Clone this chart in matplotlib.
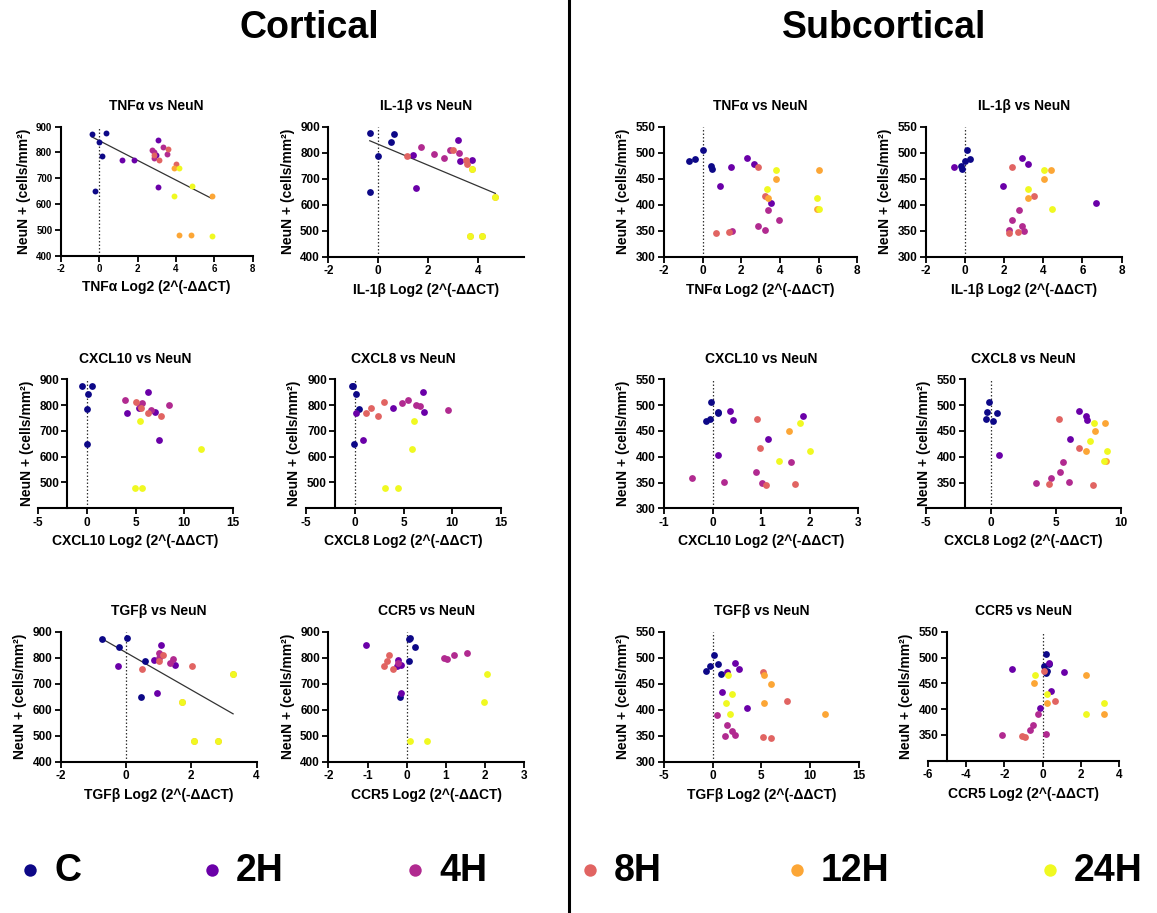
import numpy as np
import matplotlib
matplotlib.use('Agg')
import matplotlib.pyplot as plt

plt.rcParams['font.family'] = ['Liberation Sans', 'DejaVu Sans']
plt.rcParams['font.weight'] = 'bold'
plt.rcParams['axes.labelweight'] = 'bold'
plt.rcParams['axes.titleweight'] = 'bold'
plt.rcParams['axes.unicode_minus'] = False

GROUPS = ['C', '2H', '4H', '8H', '12H', '24H']
COLORS = plt.cm.plasma(np.linspace(0, 1, 6))

# NeuN+ counts per group (same animals in every panel of a region)
CORT_Y = {
    'C':   [875, 873, 842, 786, 649],
    '2H':  [850, 790, 772, 769, 666],
    '4H':  [820, 810, 800, 795, 780],
    '8H':  [812, 789, 770, 756],
    '12H': [738, 630, 479, 479],
    '24H': [738, 671, 630, 478, 478],
}
SUB_Y = {
    'C':   [506, 487, 484, 474, 469],
    '2H':  [489, 478, 472, 435, 403],
    '4H':  [390, 370, 359, 351, 349],
    '8H':  [473, 416, 347, 345],
    '12H': [466, 450, 412, 391],
    '24H': [466, 430, 412, 391],
}

N = None
# Log2 fold change, same order as the y lists (None = not shown)
# 12H points hidden under the 24H points where they coincide
CORT_TNFA = {
    'C':   [0.37, -0.38, 0.02, 0.14, -0.23],
    '2H':  [3.08, 2.95, 1.84, 1.18, 3.08],
    '4H':  [3.34, 2.73, 2.87, 3.53, 2.88],
    '8H':  [3.57, 2.85, 3.10, 4.02],
    '12H': [3.90, 5.86, 4.17, 4.80],
    '24H': [4.17, 4.82, 3.90, 5.86, N],
}
CORT_IL1B = {
    'C':   [-0.34, 0.65, 0.52, 0.00, -0.33],
    '2H':  [3.18, 1.40, 3.76, 3.29, 1.50],
    '4H':  [1.70, 2.86, 3.25, 2.23, 2.65],
    '8H':  [3.00, 1.17, 3.52, 3.55],
    '12H': [3.74, 4.69, 3.67, 4.14],
    '24H': [3.74, N, 4.69, 3.67, 4.14],
}
CORT_CXCL10 = {
    'C':   [-0.55, 0.48, 0.07, -0.03, -0.03],
    '2H':  [6.24, 5.38, 7.03, 4.14, 7.41],
    '4H':  [3.97, 5.69, 8.48, 5.50, 6.62],
    '8H':  [5.10, 5.59, 6.24, 7.62],
    '12H': [N, N, N, N],
    '24H': [5.48, N, 11.76, 4.93, 5.69],
}
CORT_CXCL8 = {
    'C':   [-0.20, -0.25, 0.14, 0.41, -0.10],
    '2H':  [6.97, 3.91, 7.14, 0.17, 0.85],
    '4H':  [5.44, 4.80, 6.26, 6.73, 9.59],
    '8H':  [2.96, 1.70, 1.19, 2.38],
    '12H': [N, N, N, N],
    '24H': [6.09, N, 5.85, 3.13, 4.46],
}
CORT_TGFB = {
    'C':   [0.04, -0.74, -0.22, 0.57, 0.46],
    '2H':  [1.07, 0.86, 1.49, -0.23, 0.94],
    '4H':  [1.00, 1.08, 1.02, 1.43, 1.36],
    '8H':  [1.13, 1.00, 2.03, 0.49],
    '12H': [3.28, 1.71, 2.08, 2.82],
    '24H': [3.28, N, 1.71, 2.08, 2.82],
}
CORT_CCR5 = {
    'C':   [0.09, 0.07, 0.21, 0.07, -0.17],
    '2H':  [-1.05, -0.21, -0.14, -0.24, -0.14],
    '4H':  [1.55, 1.21, 0.94, 1.02, -0.22],
    '8H':  [-0.44, -0.49, -0.58, -0.34],
    '12H': [N, N, N, N],
    '24H': [2.05, N, 1.97, 0.09, 0.51],
}

SUB_TNFA = {
    'C':   [0.02, -0.41, -0.69, 0.45, 0.50],
    '2H':  [2.29, 2.66, 1.47, 0.90, 3.53],
    '4H':  [3.36, 3.97, 2.86, 3.22, 1.52],
    '8H':  [2.84, 3.24, 1.36, 0.67],
    '12H': [6.03, 3.79, 3.36, 5.91],
    '24H': [3.79, 3.33, 5.91, 6.03],
}
SUB_IL1B = {
    'C':   [0.09, 0.27, 0.00, -0.19, -0.17],
    '2H':  [2.92, 3.20, -0.56, 1.95, 6.72],
    '4H':  [2.74, 2.41, 2.89, 2.22, 2.99],
    '8H':  [2.41, 3.52, 2.72, 2.24],
    '12H': [4.41, 4.05, 3.20, N],
    '24H': [4.02, 3.20, N, 4.43],
}
SUB_CXCL10 = {
    'C':   [-0.04, 0.12, 0.12, -0.06, -0.13],
    '2H':  [0.36, 1.87, 0.43, 1.15, 0.12],
    '4H':  [1.61, 0.89, -0.43, 0.23, 1.02],
    '8H':  [0.92, 0.97, 1.70, 1.10],
    '12H': [N, 1.57, N, N],
    '24H': [1.79, N, 2.00, 1.37],
}
SUB_CXCL8 = {
    'C':   [-0.15, -0.31, 0.46, -0.41, 0.13],
    '2H':  [6.79, 7.28, 7.38, 6.08, 0.62],
    '4H':  [5.56, 5.28, 4.64, 5.97, 3.44],
    '8H':  [5.23, 6.74, 4.44, 7.85],
    '12H': [8.74, 8.00, 7.28, 8.82],
    '24H': [7.95, 7.59, 8.90, 8.72],
}
SUB_TGFB = {
    'C':   [0.14, 0.55, -0.24, -0.65, 0.82],
    '2H':  [2.29, 2.67, 1.44, 0.92, 3.53],
    '4H':  [0.45, 1.47, 1.99, 2.33, 1.23],
    '8H':  [5.14, 7.60, 5.14, 5.99],
    '12H': [5.24, 5.99, 5.27, 11.54],
    '24H': [1.54, 1.99, 1.34, 1.78],
}
SUB_CCR5 = {
    'C':   [0.16, 0.34, 0.05, 0.21, 0.16],
    '2H':  [0.31, -1.62, 1.12, 0.45, -0.16],
    '4H':  [-0.24, -0.52, -0.66, 0.16, -2.10],
    '8H':  [0.07, 0.66, -1.09, -0.93],
    '12H': [2.26, -0.44, 0.24, 3.19],
    '24H': [-0.40, 0.24, 3.21, 2.26],
}

W, H = 1157, 913
fig = plt.figure(figsize=(W / 100, H / 100), dpi=100)


def px_rect(l, t, r, b):
    return [l / W, 1 - b / H, (r - l) / W, (b - t) / H]


def panel(rect, gene, xdata, ydata, xlim, xticks, ylim, yticks, yspine=None,
          fit=False, tsize=8.5, msize=24):
    ax = fig.add_axes(px_rect(*rect))
    allx, ally = [], []
    ax.axvline(0, color='#333333', lw=0.9, ls=(0, (1.2, 1.6)), zorder=1)
    for g, c in zip(GROUPS, COLORS):
        xs = [x for x, y in zip(xdata[g], ydata[g]) if x is not None]
        ys = [y for x, y in zip(xdata[g], ydata[g]) if x is not None]
        ax.scatter(xs, ys, s=msize, color=c, linewidths=0, zorder=3)
        allx += xs
        ally += ys
    if fit:
        k, b = np.polyfit(allx, ally, 1)
        xx = np.array([min(allx), max(allx)])
        ax.plot(xx, k * xx + b, color='#333333', lw=0.9, zorder=2)
    ax.set_xlim(*xlim)
    ax.set_ylim(*ylim)
    ax.set_xticks(xticks)
    ax.set_yticks(yticks)
    ax.spines['top'].set_visible(False)
    ax.spines['right'].set_visible(False)
    for s in ['left', 'bottom']:
        ax.spines[s].set_linewidth(1.5)
    if yspine is not None:
        ax.spines['left'].set_position(('data', yspine))
    ax.tick_params(direction='out', length=4, width=1.3, labelsize=tsize, pad=2)
    for lab in ax.get_xticklabels() + ax.get_yticklabels():
        lab.set_fontweight('bold')
    ax.set_title(f'{gene} vs NeuN', fontsize=10, fontweight='bold', pad=12)
    ax.set_xlabel(f'{gene} Log2 (2^(-ΔΔCT)', fontsize=10, fontweight='bold', labelpad=4)
    ax.set_ylabel('NeuN + (cells/mm²)', fontsize=10, fontweight='bold', labelpad=4)
    return ax


cy = list(range(400, 901, 100))
cy5 = list(range(500, 901, 100))
sy = list(range(300, 551, 50))
sy5 = list(range(350, 551, 50))

# Cortical
panel((60.7, 126.7, 252.7, 255.7), 'TNFα', CORT_TNFA, CORT_Y, (-2, 8), [-2, 0, 2, 4, 6, 8],
      (400, 900), cy, fit=True, tsize=7, msize=18)
panel((328.3, 126.7, 524.3, 256.7), 'IL-1β', CORT_IL1B, CORT_Y, (-2, 5.85), [-2, 0, 2, 4],
      (400, 900), cy, fit=True)
panel((38.3, 379.3, 232.7, 508.3), 'CXCL10', CORT_CXCL10, CORT_Y, (-5, 15), [-5, 0, 5, 10, 15],
      (400, 900), cy5, yspine=-2)
panel((306, 379.3, 501, 508.3), 'CXCL8', CORT_CXCL8, CORT_Y, (-5, 15), [-5, 0, 5, 10, 15],
      (400, 900), cy5, yspine=-2)
panel((60.7, 631.7, 256.6, 761.7), 'TGFβ', CORT_TGFB, CORT_Y, (-2, 4), [-2, 0, 2, 4],
      (400, 900), cy, fit=True)
panel((328.3, 631.7, 524.3, 761.7), 'CCR5', CORT_CCR5, CORT_Y, (-2, 3), [-2, -1, 0, 1, 2, 3],
      (400, 900), cy)

# Subcortical
panel((664, 126.7, 857.3, 256.7), 'TNFα', SUB_TNFA, SUB_Y, (-2, 8), [-2, 0, 2, 4, 6, 8],
      (300, 550), sy)
panel((926, 126.7, 1121.5, 256.7), 'IL-1β', SUB_IL1B, SUB_Y, (-2, 8), [-2, 0, 2, 4, 6, 8],
      (300, 550), sy)
panel((664, 379.3, 858.4, 508.3), 'CXCL10', SUB_CXCL10, SUB_Y, (-1, 3), [-1, 0, 1, 2, 3],
      (300, 550), sy)
panel((926, 379.3, 1121, 508.3), 'CXCL8', SUB_CXCL8, SUB_Y, (-5, 10), [-5, 0, 5, 10],
      (300, 550), sy5, yspine=-2)
panel((664, 631.7, 858.6, 761.7), 'TGFβ', SUB_TGFB, SUB_Y, (-5, 15), [-5, 0, 5, 10, 15],
      (300, 550), sy)
panel((927.7, 631.7, 1119.2, 760.7), 'CCR5', SUB_CCR5, SUB_Y, (-6, 4), [-6, -4, -2, 0, 2, 4],
      (300, 550), sy5, yspine=-5)

# overlay: headings, divider, legend
ov = fig.add_axes([0, 0, 1, 1], zorder=-1)
ov.set_xlim(0, W)
ov.set_ylim(H, 0)
ov.axis('off')
ov.plot([569, 569], [0, H], color='black', lw=2.2)
ov.text(309, 28, 'Cortical', fontsize=27, fontweight='bold', ha='center', va='center')
ov.text(884, 28, 'Subcortical', fontsize=27, fontweight='bold', ha='center', va='center')

leg_x = [30, 212, 415, 590, 797, 1050]
for g, c, x in zip(GROUPS, COLORS, leg_x):
    ov.scatter([x], [870], s=80, color=c, linewidths=0)
    ov.text(x + 24, 871, g, fontsize=27, fontweight='bold', ha='left', va='center')

fig.savefig('out.png', dpi=100)
